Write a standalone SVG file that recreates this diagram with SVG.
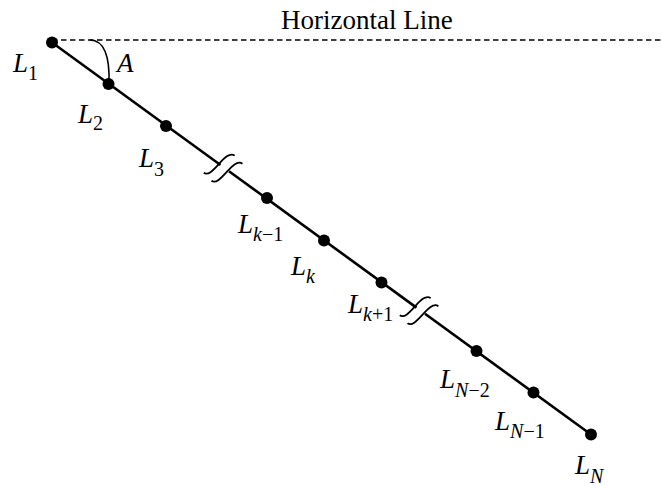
<svg xmlns="http://www.w3.org/2000/svg" width="662" height="486" viewBox="0 0 662 486">
<style>
.ln{stroke:#000;stroke-width:2.6;fill:none}
.dash{stroke:#000;stroke-width:1.6;stroke-dasharray:5.5 3.5;fill:none}
.arc{stroke:#000;stroke-width:1.6;fill:none}
.brk{stroke:#000;stroke-width:1.8;fill:none}
.dot{fill:#000}
.lab{font-family:"Liberation Serif","Times New Roman",serif;font-size:27px;fill:#000}
.it{font-style:italic}
.sub{font-size:20px}
</style>
<defs>
<g id="brk">
<path class="brk" d="M -14,16 C -3,16 -11,-16 1,-16"/>
<path class="brk" d="M -3,18 C 8,18 0,-14 12,-14"/>
</g>
</defs>
<g id="connectors">
<line class="dash" x1="52" y1="40" x2="662" y2="40"/>
<path class="arc" d="M 90,40 C 104,40 110,56 109,84"/>
<line class="ln" x1="52" y1="42.5" x2="220.5" y2="165"/>
<line class="ln" x1="229" y1="171.3" x2="416.5" y2="307.6"/>
<line class="ln" x1="425" y1="313.8" x2="591" y2="434.5"/>
<use href="#brk" transform="translate(224.5,168) rotate(36)"/>
<use href="#brk" transform="translate(420.5,310.5) rotate(36)"/>
</g>
<g id="horizontal-label"><text class="lab" x="281" y="29" font-size="26">Horizontal Line</text></g>
<g id="angle-label"><text class="lab it" x="117" y="72" font-size="25">A</text></g>
<g id="L1"><circle class="dot" cx="52" cy="42.5" r="6"/><text class="lab" x="13" y="72"><tspan class="it">L</tspan><tspan class="sub" dy="8">1</tspan></text></g>
<g id="L2"><circle class="dot" cx="108.5" cy="84" r="6"/><text class="lab" x="78" y="123"><tspan class="it">L</tspan><tspan class="sub" dy="7">2</tspan></text></g>
<g id="L3"><circle class="dot" cx="166" cy="126" r="6"/><text class="lab" x="139" y="167"><tspan class="it">L</tspan><tspan class="sub" dy="9">3</tspan></text></g>
<g id="Lk-1"><circle class="dot" cx="267" cy="198" r="6"/><text class="lab" x="238" y="233"><tspan class="it">L</tspan><tspan class="sub" dy="8"><tspan class="it">k</tspan>−1</tspan></text></g>
<g id="Lk"><circle class="dot" cx="324" cy="240.5" r="6"/><text class="lab" x="291" y="275"><tspan class="it">L</tspan><tspan class="sub it" dy="8">k</tspan></text></g>
<g id="Lk+1"><circle class="dot" cx="381.5" cy="282.5" r="6"/><text class="lab" x="348" y="313"><tspan class="it">L</tspan><tspan class="sub" dy="8"><tspan class="it">k</tspan>+1</tspan></text></g>
<g id="LN-2"><circle class="dot" cx="476.5" cy="351" r="6"/><text class="lab" x="440" y="388"><tspan class="it">L</tspan><tspan class="sub" dy="9"><tspan class="it">N</tspan>−2</tspan></text></g>
<g id="LN-1"><circle class="dot" cx="533.5" cy="392.5" r="6"/><text class="lab" x="495" y="430"><tspan class="it">L</tspan><tspan class="sub" dy="8"><tspan class="it">N</tspan>−1</tspan></text></g>
<g id="LN"><circle class="dot" cx="591" cy="434.5" r="6"/><text class="lab" x="575" y="474"><tspan class="it">L</tspan><tspan class="sub it" dy="9">N</tspan></text></g>
</svg>
